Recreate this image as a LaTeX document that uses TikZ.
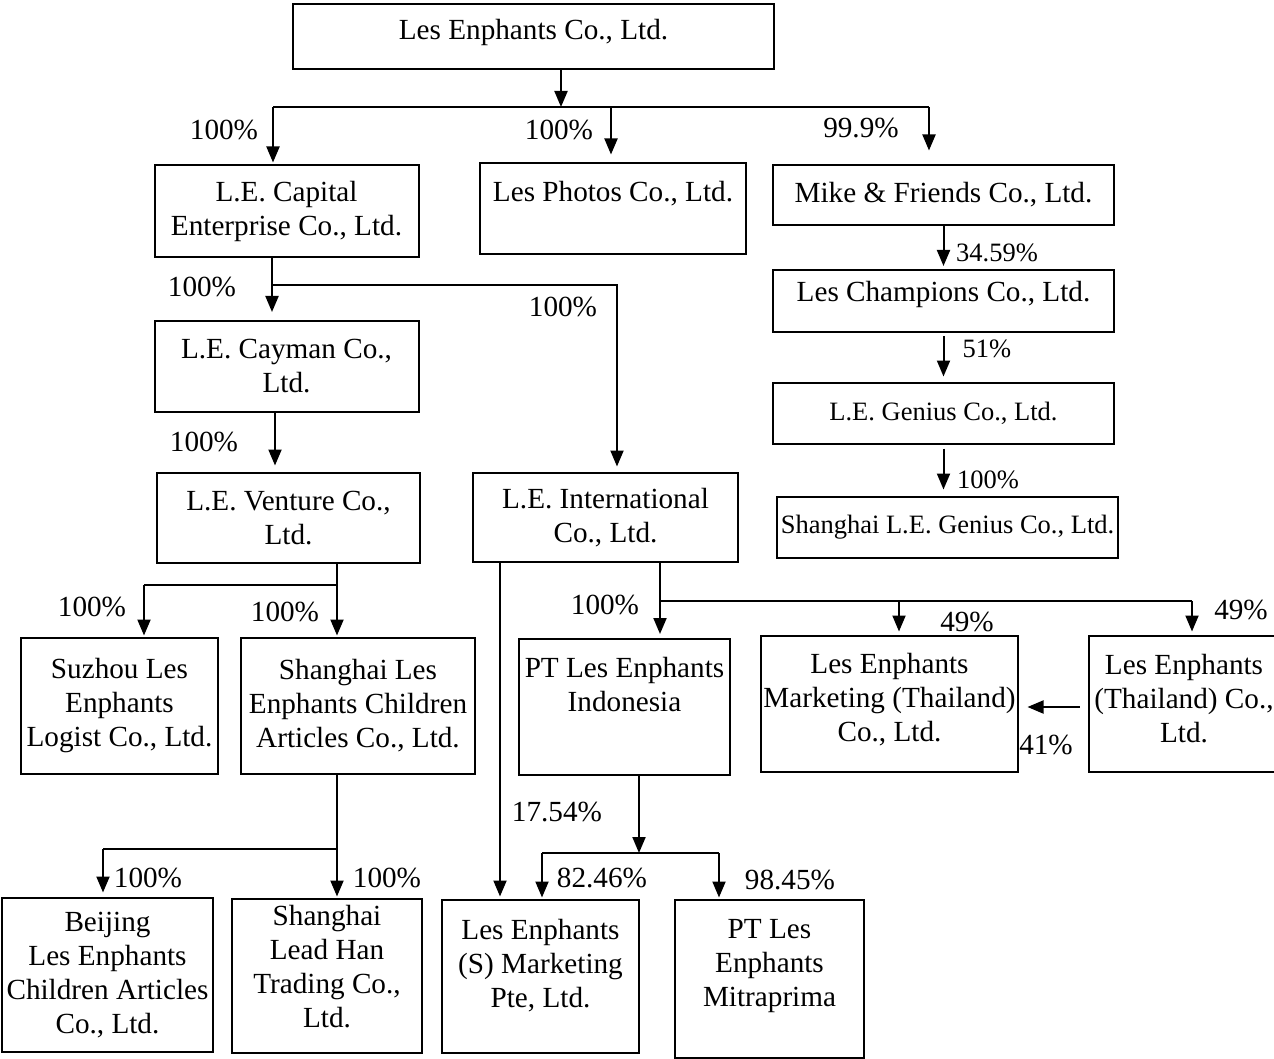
\documentclass[tikz,border=0pt]{standalone}
\usepackage{fontspec}
\setmainfont{Liberation Serif}
\usetikzlibrary{arrows.meta}

\begin{document}
\begin{tikzpicture}[x=1pt, y=-1pt, scale=0.5, every node/.style={transform shape}]
    % Styles
    \tikzstyle{firm} = [rectangle, draw=black, line width=1pt, align=center, inner sep=0pt, font=\fontsize{29.2}{34}\selectfont]
    \tikzstyle{small} = [font=\fontsize{26.5}{32}\selectfont]
    \tikzstyle{pct} = [inner sep=0pt, font=\fontsize{29.2}{34}\selectfont]
    \tikzstyle{arrow} = [-{Triangle[width=6.5pt, length=8pt]}, line width=1pt, shorten >=2pt]
    \tikzstyle{link} = [line width=1pt]

    \useasboundingbox (0,0) rectangle (1274,1059);

    % Nodes - companies
    \node[firm, minimum width=481pt, minimum height=65pt] (top) at (533.5,37) {Les Enphants Co., Ltd.\\[-28pt]\strut};
    \node[firm, minimum width=264pt, minimum height=92pt] (cap) at (286.5,211) {L.E. Capital\\Enterprise Co., Ltd.};
    \node[firm, minimum width=266pt, minimum height=91pt] (photo) at (613,208.5) {Les Photos Co., Ltd.\\[-10pt]\strut};
    \node[firm, minimum width=341pt, minimum height=60pt] (mike) at (943.5,195) {Mike \& Friends Co., Ltd.};
    \node[firm, minimum width=341pt, minimum height=61pt] (champ) at (943.5,301) {Les Champions Co., Ltd.\\[-24pt]\strut};
    \node[firm, small, minimum width=341pt, minimum height=61pt] (genius) at (943.5,413.5) {L.E. Genius Co., Ltd.};
    \node[firm, small, minimum width=341pt, minimum height=61pt] (shgen) at (947.5,527.5) {Shanghai L.E. Genius Co., Ltd.};
    \node[firm, minimum width=264pt, minimum height=91pt] (cay) at (286.5,366) {L.E. Cayman Co.,\\Ltd.};
    \node[firm, minimum width=263pt, minimum height=90pt] (ven) at (288.5,518) {L.E. Venture Co.,\\Ltd.};
    \node[firm, minimum width=265pt, minimum height=89pt] (intl) at (605.5,517.5) {L.E. International\\Co., Ltd.};
    \node[firm, minimum width=197pt, minimum height=136pt] (suz) at (119.5,706) {Suzhou Les\\Enphants\\Logist Co., Ltd.};
    \node[firm, minimum width=234pt, minimum height=136pt] (shles) at (358,706) {Shanghai Les\\Enphants Children\\Articles Co., Ltd.};
    \node[firm, minimum width=211pt, minimum height=136pt] (ptind) at (624.5,706.5) {PT Les Enphants\\Indonesia\\\strut};
    \node[firm, minimum width=257pt, minimum height=136pt] (mkt) at (889.5,704) {Les Enphants\\Marketing (Thailand)\\Co., Ltd.\\[-30pt]\strut};
    \node[firm, minimum width=190pt, minimum height=136pt] (thai) at (1184,704) {Les Enphants\\(Thailand) Co.,\\Ltd.\\[-32pt]\strut};
    \node[firm, minimum width=211pt, minimum height=154pt] (bei) at (107.5,975) {Beijing\\Les Enphants\\Children Articles\\Co., Ltd.};
    \node[firm, minimum width=190pt, minimum height=154pt] (lead) at (327,976) {Shanghai\\Lead Han\\Trading Co.,\\Ltd.\\[-24pt]\strut};
    \node[firm, minimum width=197pt, minimum height=153pt] (sgp) at (540.5,976.5) {Les Enphants\\(S) Marketing\\Pte, Ltd.\\[-18pt]\strut};
    \node[firm, minimum width=189pt, minimum height=158pt] (mitra) at (769.5,979) {PT Les\\Enphants\\Mitraprima\\[-12pt]\strut};

    % Nodes - shares
    \node[pct] (p-cap) at (224,130) {100\%};
    \node[pct] (p-photo) at (559,130) {100\%};
    \node[pct] (p-mike) at (861,128) {99.9\%};
    \node[pct, small] (p-champ) at (997,253) {34.59\%};
    \node[pct, small] (p-genius) at (987,349) {51\%};
    \node[pct, small] (p-shgen) at (988,480) {100\%};
    \node[pct] (p-cay) at (202,287) {100\%};
    \node[pct] (p-intl) at (563,307) {100\%};
    \node[pct] (p-ven) at (204,442) {100\%};
    \node[pct] (p-suz) at (92,607) {100\%};
    \node[pct] (p-shles) at (285,612) {100\%};
    \node[pct] (p-bei) at (148,878) {100\%};
    \node[pct] (p-lead) at (387,878) {100\%};
    \node[pct] (p-ptind) at (605,605) {100\%};
    \node[pct] (p-mkt) at (967,622) {49\%};
    \node[pct] (p-thai) at (1241,610) {49\%};
    \node[pct] (p-thmkt) at (1046,745) {41\%};
    \node[pct] (p-sgp1) at (557,812) {17.54\%};
    \node[pct] (p-sgp2) at (602,878) {82.46\%};
    \node[pct] (p-mitra) at (790,880) {98.45\%};

    % Arrows - top level
    \coordinate (j0) at (561,107);
    \coordinate (j1) at (273,107);
    \coordinate (j2) at (611,107);
    \coordinate (j3) at (929,107);
    \draw[arrow, shorten >=0pt] (top.south -| j0) -- (j0);
    \draw[link] (j1) -- (j3);
    \draw[arrow, shorten >=1pt] (j1) -- (j1 |- cap.north);
    \draw[arrow, shorten >=4pt] (j2) -- (j2 |- photo.north);
    \draw[arrow, shorten >=7pt] (j3) -- (j3 |- mike.north);

    % Arrows - Mike & Friends line
    \draw[arrow] (mike.south) -- (champ.north);
    \draw[arrow, shorten <=2pt, shorten >=3pt] (champ.south) -- (genius.north);
    \draw[arrow, shorten <=2pt, shorten >=3.5pt] (genius.south) -- (shgen.north -| genius.south);

    % Arrows - Capital line
    \coordinate (c0) at (272,285);
    \coordinate (c1) at (617,285);
    \coordinate (c2) at (275,442);
    \draw[arrow, shorten >=4pt] (cap.south -| c0) -- (c0 |- cay.north);
    \draw[arrow, shorten >=3pt] (c0) -- (c1) -- (c1 |- intl.north);
    \draw[arrow, shorten >=3.5pt] (cay.south -| c2) -- (c2 |- ven.north);

    % Arrows - Venture line
    \coordinate (v1) at (337,585);
    \coordinate (v2) at (144,585);
    \draw[link] (ven.south -| v1) -- (v1) -- (v2);
    \draw[arrow, shorten >=1pt] (v2) -- (v2 |- suz.north);
    \draw[arrow, shorten >=1pt] (v1) -- (v1 |- shles.north);
    \coordinate (s1) at (337,849);
    \coordinate (s2) at (103,849);
    \draw[arrow, shorten >=1pt] (shles.south -| s1) -- (s1 |- lead.north);
    \draw[link] (s1) -- (s2);
    \draw[arrow, shorten >=2.5pt] (s2) -- (s2 |- bei.north);

    % Arrows - International line
    \coordinate (i0) at (500,812);
    \coordinate (i1) at (660,601);
    \coordinate (i2) at (899,601);
    \coordinate (i3) at (1192,601);
    \draw[arrow, shorten >=1.5pt] (intl.south -| i0) -- (i0 |- sgp.north);
    \draw[arrow] (intl.south -| i1) -- (i1 |- ptind.north);
    \draw[link] (i1) -- (i3);
    \draw[arrow] (i2) -- (i2 |- mkt.north);
    \draw[arrow] (i3) -- (i3 |- thai.north);
    \coordinate (h0) at (1050,707);
    \draw[arrow, shorten <=4.5pt, shorten >=4.5pt] (thai.west |- h0) -- (mkt.east |- h0);

    % Arrows - PT Indonesia line
    \coordinate (q0) at (639,853);
    \coordinate (q1) at (542,853);
    \coordinate (q2) at (719,853);
    \draw[arrow, shorten >=0pt] (ptind.south -| q0) -- (q0);
    \draw[link] (q1) -- (q2);
    \draw[arrow, shorten >=1pt] (q1) -- (q1 |- sgp.north);
    \draw[arrow, shorten >=1pt] (q2) -- (q2 |- mitra.north);
\end{tikzpicture}
\end{document}
